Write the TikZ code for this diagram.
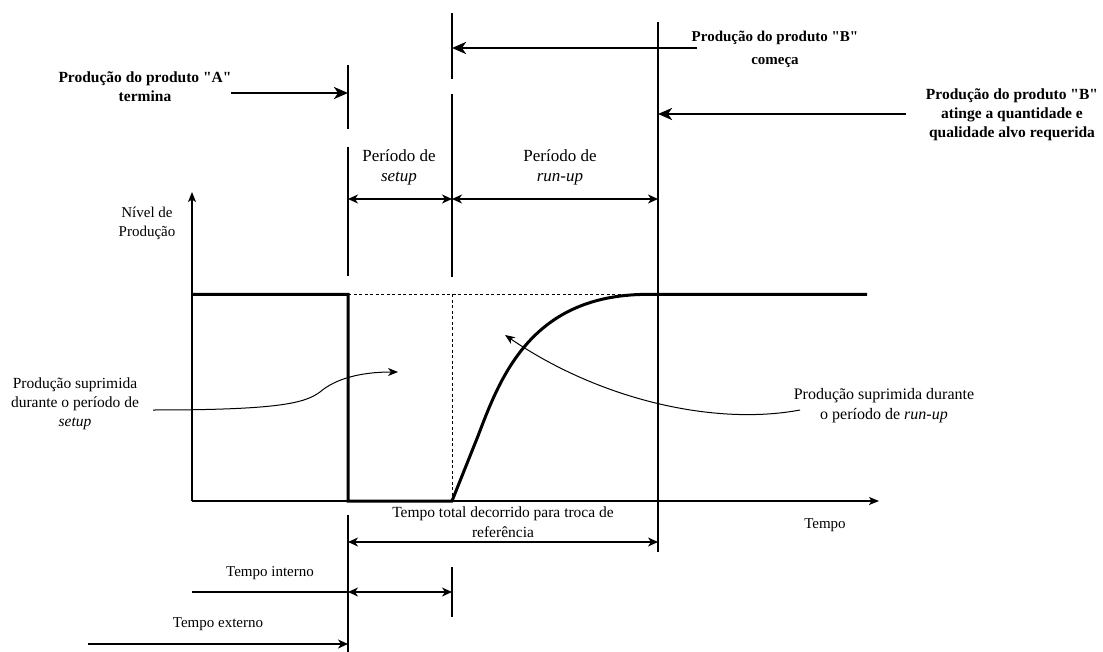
\documentclass[tikz,border=0pt]{standalone}
\usepackage{fontspec}
\setmainfont{Liberation Serif}[Ligatures=TeXOff]
\usetikzlibrary{arrows.meta}
\begin{document}
\begin{tikzpicture}[x=1pt,y=-1pt,
  lbl/.style={font=\fontsize{15}{19}\selectfont, align=center, inner sep=0pt},
  plbl/.style={font=\fontsize{17}{20}\selectfont, align=center, inner sep=0pt},
  blbl/.style={font=\fontsize{15.5}{19}\selectfont\bfseries, align=center, inner sep=0pt},
  marker/.style={line width=2.6pt},
  thinmarker/.style={line width=2pt},
  prod/.style={line width=3pt, line join=miter},
  axis/.style={line width=1.4pt, -{Stealth[length=10pt,width=8pt,inset=2.5pt]}},
  bigarrow/.style={line width=2.6pt, -{Stealth[length=14pt,width=12pt,inset=4pt]}},
  dimarrow/.style={line width=1.6pt, {Stealth[length=10pt,width=9pt,inset=3pt]}-{Stealth[length=10pt,width=9pt,inset=3pt]}},
  onearrow/.style={line width=1.6pt, -{Stealth[length=10pt,width=9pt,inset=3pt]}},
  note/.style={line width=1pt, -{Stealth[length=10pt,width=8pt,inset=3pt]}},
  guide/.style={line width=1pt, dash pattern=on 3pt off 2.5pt},
]
\useasboundingbox (0,0) rectangle (1103,652);

% axes
\coordinate (O) at (192,501);
\coordinate (Ytop) at (192,192);
\coordinate (Xend) at (879,501);
\draw[axis] (O) -- (Ytop);
\draw[axis] (O) -- (Xend);

% guide lines of the nominal production level
\coordinate (G1) at (348,294.5);
\coordinate (G2) at (625,294.5);
\coordinate (G3) at (452,294.5);
\coordinate (G4) at (452,501);
\draw[guide] (G1) -- (G2);
\draw[guide] (G3) -- (G4);

% production level over time
\coordinate (P0) at (192,294.5);
\coordinate (P1) at (348,294.5);
\coordinate (P2) at (348,501);
\coordinate (P3) at (452,501);
\coordinate (P4) at (478,436);
\coordinate (P5) at (640,294.5);
\coordinate (P6) at (867,294.5);
\draw[prod] (P0) -- (P1) -- (P2) -- (P3) -- (P4)
  .. controls (500,378) and (530,298) .. (P5) -- (P6);

% event markers
\coordinate (A1) at (348,65);   \coordinate (A2) at (348,129);
\coordinate (A3) at (348,147);  \coordinate (A4) at (348,276);
\coordinate (A5) at (348,515);  \coordinate (A6) at (348,652);
\draw[marker] (A1) -- (A2);
\draw[marker] (A3) -- (A4);
\draw[marker] (A5) -- (A6);

\coordinate (B1) at (452,13);   \coordinate (B2) at (452,79);
\coordinate (B3) at (452,94);   \coordinate (B4) at (452,277);
\coordinate (B5) at (452,567);  \coordinate (B6) at (452,617);
\draw[marker] (B1) -- (B2);
\draw[marker] (B3) -- (B4);
\draw[marker] (B5) -- (B6);

\coordinate (C1) at (658,22);   \coordinate (C2) at (658,552);
\coordinate (C3) at (658,80);   \coordinate (C4) at (658,145);
\draw[thinmarker] (C1) -- (C2);
\draw[marker] (C3) -- (C4);

% event labels
\node[blbl] (endA) at (145,87) {Produção do produto "A"\\termina};
\node[blbl, font=\fontsize{15}{23}\selectfont\bfseries] (startB) at (775,49) {Produção do produto "B"\\começa};
\node[blbl] (targetB) at (1012,115) {Produção do produto "B"\\atinge a quantidade e\\qualidade alvo requerida};

\coordinate (eA) at (231,93);   \coordinate (eAt) at (348,93);
\coordinate (sB) at (697,48);   \coordinate (sBt) at (452,48);
\coordinate (tB) at (906,114);  \coordinate (tBt) at (658,114);
\draw[bigarrow] (eA) -- (eAt);
\draw[bigarrow] (sB) -- (sBt);
\draw[bigarrow] (tB) -- (tBt);

% periods
\node[plbl] (setup) at (399,167) {Período de\\\textit{setup}};
\node[plbl] (runup) at (560,167) {Período de\\\textit{run-up}};
\coordinate (S1) at (348,199); \coordinate (S2) at (452,199); \coordinate (S3) at (658,199);
\draw[dimarrow] (S1) -- (S2);
\draw[dimarrow] (S2) -- (S3);

% axis labels
\node[lbl] (ylab) at (147,223) {Nível de\\Produção};
\node[lbl] (xlab) at (825,525) {Tempo};

% suppressed production notes
\node[lbl, font=\fontsize{15.5}{19}\selectfont] (noteL) at (75,404) {Produção suprimida\\durante o período de\\\textit{setup}};
\node[lbl, font=\fontsize{16}{20}\selectfont] (noteR) at (884,406) {Produção suprimida durante\\o período de \textit{run-up}};
\coordinate (nL0) at (153,410);
\coordinate (nL1) at (320,392);
\coordinate (nL2) at (398,372);
\draw[note] (nL0) .. controls (280,410) and (305,403) .. (nL1)
  .. controls (335,379) and (360,372) .. (nL2);
\coordinate (nR0) at (800,410);
\coordinate (nR1) at (505,335);
\draw[note] (nR0) .. controls (715,426) and (600,400) .. (nR1);

% total changeover time
\node[lbl, font=\fontsize{15.5}{20}\selectfont] (total) at (503,522) {Tempo total decorrido para troca de\\referência};
\coordinate (T1) at (348,542); \coordinate (T2) at (658,542);
\draw[dimarrow] (T1) -- (T2);

% internal and external time
\node[lbl] (intern) at (270,573) {Tempo interno};
\coordinate (I0) at (192,592); \coordinate (I1) at (348,592); \coordinate (I2) at (452,592);
\draw[line width=1.6pt] (I0) -- (I1);
\draw[dimarrow] (I1) -- (I2);

\node[lbl] (extern) at (218,624) {Tempo externo};
\coordinate (E0) at (88,644); \coordinate (E1) at (348,644);
\draw[onearrow] (E0) -- (E1);
\end{tikzpicture}
\end{document}
